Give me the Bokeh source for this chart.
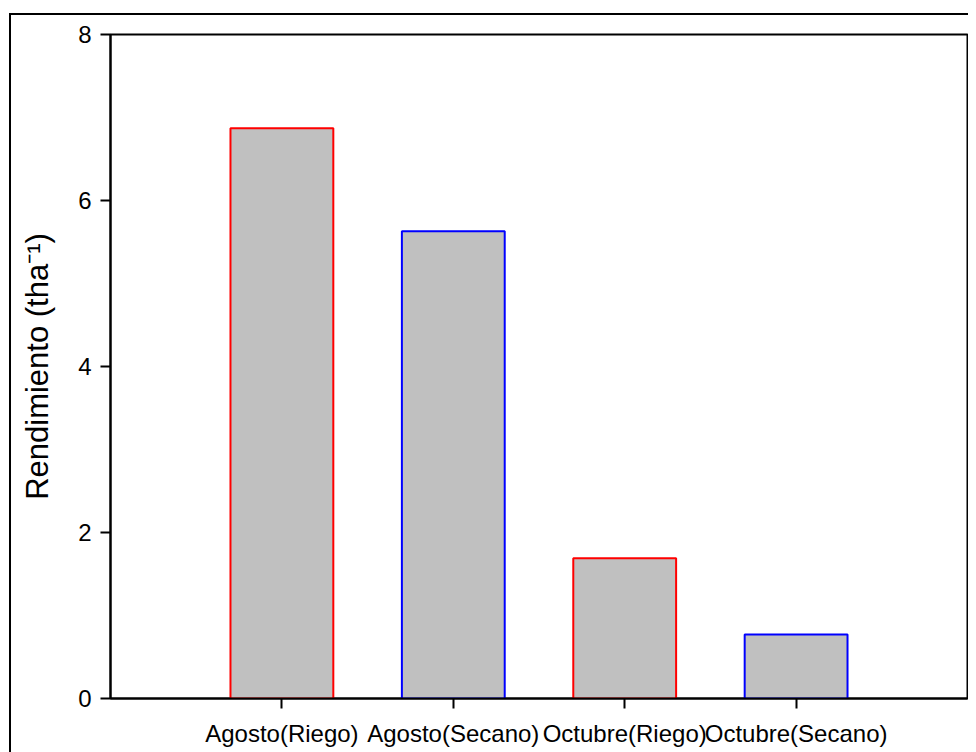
from bokeh.plotting import figure
from bokeh.models import FactorRange, Range1d, FixedTicker, ColumnDataSource
from bokeh.embed import file_html
from bokeh.resources import INLINE

categories = ["Agosto(Riego)", "Agosto(Secano)", "Octubre(Riego)", "Octubre(Secano)"]
rendimiento = [6.87, 5.63, 1.69, 0.77]
edge_colors = ["#ff0000", "#0000ff", "#ff0000", "#0000ff"]
y_ticks = [0, 2, 4, 6, 8]

src = ColumnDataSource(dict(cat=categories, val=rendimiento, edge=edge_colors))

p = figure(
    x_range=FactorRange(factors=categories, range_padding=0.5, range_padding_units="absolute"),
    y_range=Range1d(0, 8),
    width=968, height=752,
    output_backend="svg", toolbar_location=None,
    min_border_left=110, min_border_right=1, min_border_top=34, min_border_bottom=54,
)
# outer frame (top and left edges) drawn behind a transparent canvas border area
p.styles = {
    "margin-bottom": "-8px",
    "background": ("linear-gradient(#000,#000) 9px 13px / 2px calc(100% - 13px) no-repeat, "
                   "linear-gradient(#000,#000) 9px 13px / calc(100% - 9px) 2px no-repeat, #ffffff"),
}
p.border_fill_color = None
p.background_fill_color = "white"

p.vbar(x="cat", top="val", width=0.6, source=src, fill_color="#c0c0c0",
       line_color="edge", line_width=2)

p.xgrid.visible = False
p.ygrid.visible = False
p.outline_line_color = "black"
p.outline_line_width = 2

font = "Liberation Sans"
for ax in (p.xaxis[0], p.yaxis[0]):
    ax.axis_line_width = 2
    ax.axis_line_color = "black"
    ax.major_tick_line_width = 2
    ax.major_tick_line_color = "black"
    ax.major_tick_out = 10
    ax.major_tick_in = 0
    ax.minor_tick_line_color = None
    ax.major_label_text_font = font
    ax.major_label_text_font_size = "24px"
    ax.major_label_text_color = "black"
    ax.major_label_standoff = 9
p.xaxis.major_label_standoff = 11

p.yaxis.ticker = FixedTicker(ticks=y_ticks)
p.yaxis.axis_label = "Rendimiento (tha\u207b\u00b9)"
p.yaxis.axis_label_text_font = font
p.yaxis.axis_label_text_font_size = "31px"
p.yaxis.axis_label_text_font_style = "normal"
p.yaxis.axis_label_text_color = "black"
p.yaxis.axis_label_standoff = 20
p.xaxis.group_text_font_size = "0px"

open("out.html", "w").write(file_html(p, INLINE))
